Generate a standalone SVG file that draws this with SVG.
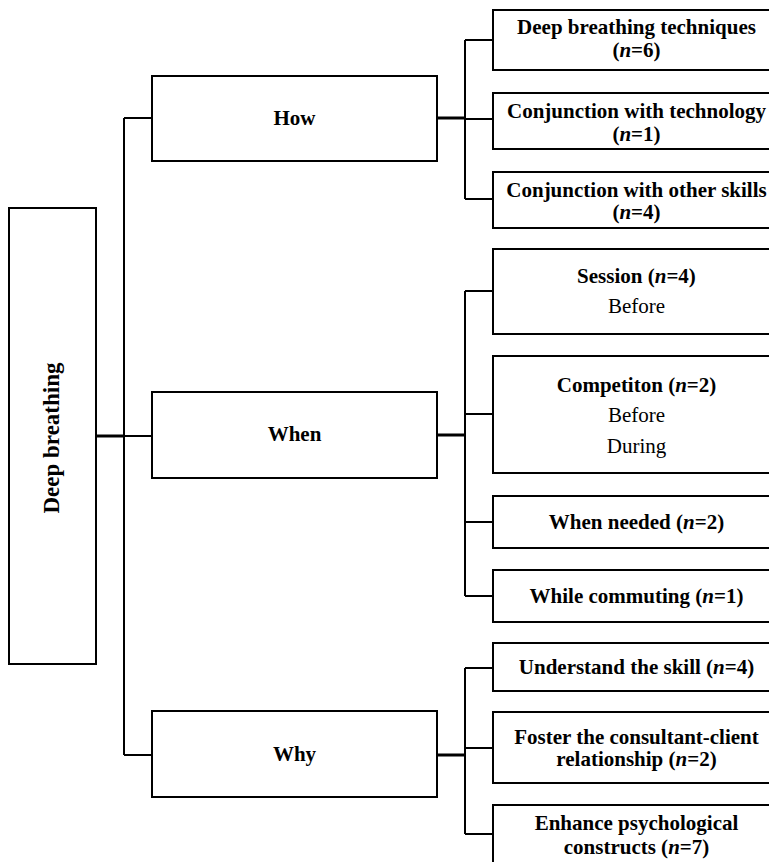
<svg xmlns="http://www.w3.org/2000/svg" width="769" height="862" viewBox="0 0 769 862">
  <style>
    .box { fill: #fff; stroke: #000; stroke-width: 2; }
    .link { fill: none; stroke: #000; stroke-width: 2; }
    .trunk { fill: none; stroke: #000; stroke-width: 3; }
    text { font-family: "Liberation Serif", "Times New Roman", serif; font-size: 21px; fill: #000; text-anchor: middle; }
    .b { font-weight: bold; }
    .i { font-style: italic; }
  </style>
  <rect width="769" height="862" fill="#fff"/>

  <!-- connectors -->
  <g id="connectors">
    <path class="trunk" d="M96 436H124"/>
    <path class="link" d="M124 118V755M124 118H152M124 436H152M124 755H152"/>
    <path class="trunk" d="M437 118H465M437 435H465M437 755H465"/>
    <path class="link" d="M465 40V199M465 40H493M465 119H493M465 199H493"/>
    <path class="link" d="M465 291V596M465 291H493M465 414H493M465 522H493M465 596H493"/>
    <path class="link" d="M465 668V834M465 668H493M465 748H493M465 834H493"/>
  </g>

  <!-- root -->
  <g id="root">
    <rect class="box" x="9" y="208" width="87" height="456"/>
    <text class="b" transform="translate(58.5 438) rotate(-90)" style="font-size:23px">Deep breathing</text>
  </g>

  <!-- second level -->
  <g id="how">
    <rect class="box" x="152" y="76" width="285" height="85"/>
    <text class="b" x="294.5" y="125">How</text>
  </g>
  <g id="when">
    <rect class="box" x="152" y="392" width="285" height="86"/>
    <text class="b" x="294.5" y="441">When</text>
  </g>
  <g id="why">
    <rect class="box" x="152" y="711" width="285" height="86"/>
    <text class="b" x="294.5" y="761">Why</text>
  </g>

  <!-- How children -->
  <g id="how-techniques">
    <rect class="box" x="493" y="10" width="290" height="60"/>
    <text class="b" x="636.5" y="34">Deep breathing techniques</text>
    <text class="b" x="636.5" y="56.5">(<tspan class="i">n</tspan>=6)</text>
  </g>
  <g id="how-technology">
    <rect class="box" x="493" y="93" width="290" height="56"/>
    <text class="b" x="636.5" y="118">Conjunction with technology</text>
    <text class="b" x="636.5" y="140.5">(<tspan class="i">n</tspan>=1)</text>
  </g>
  <g id="how-skills">
    <rect class="box" x="493" y="172" width="290" height="56"/>
    <text class="b" x="636.5" y="196.5">Conjunction with other skills</text>
    <text class="b" x="636.5" y="219">(<tspan class="i">n</tspan>=4)</text>
  </g>

  <!-- When children -->
  <g id="when-session">
    <rect class="box" x="493" y="249" width="290" height="85"/>
    <text class="b" x="636.5" y="282.5">Session (<tspan class="i">n</tspan>=4)</text>
    <text x="636.5" y="312.5">Before</text>
  </g>
  <g id="when-competition">
    <rect class="box" x="493" y="356" width="290" height="117"/>
    <text class="b" x="636.5" y="391.5">Competiton (<tspan class="i">n</tspan>=2)</text>
    <text x="636.5" y="421.5">Before</text>
    <text x="636.5" y="452.5">During</text>
  </g>
  <g id="when-needed">
    <rect class="box" x="493" y="496" width="290" height="52"/>
    <text class="b" x="636.5" y="528.5">When needed (<tspan class="i">n</tspan>=2)</text>
  </g>
  <g id="when-commuting">
    <rect class="box" x="493" y="570" width="290" height="52"/>
    <text class="b" x="636.5" y="603">While commuting (<tspan class="i">n</tspan>=1)</text>
  </g>

  <!-- Why children -->
  <g id="why-understand">
    <rect class="box" x="493" y="643" width="290" height="48"/>
    <text class="b" x="636.5" y="673.5">Understand the skill (<tspan class="i">n</tspan>=4)</text>
  </g>
  <g id="why-relationship">
    <rect class="box" x="493" y="712" width="290" height="71"/>
    <text class="b" x="636.5" y="743.5">Foster the consultant-client</text>
    <text class="b" x="636.5" y="766">relationship (<tspan class="i">n</tspan>=2)</text>
  </g>
  <g id="why-constructs">
    <rect class="box" x="493" y="805" width="290" height="60"/>
    <text class="b" x="636.5" y="830">Enhance psychological</text>
    <text class="b" x="636.5" y="854">constructs (<tspan class="i">n</tspan>=7)</text>
  </g>
</svg>
